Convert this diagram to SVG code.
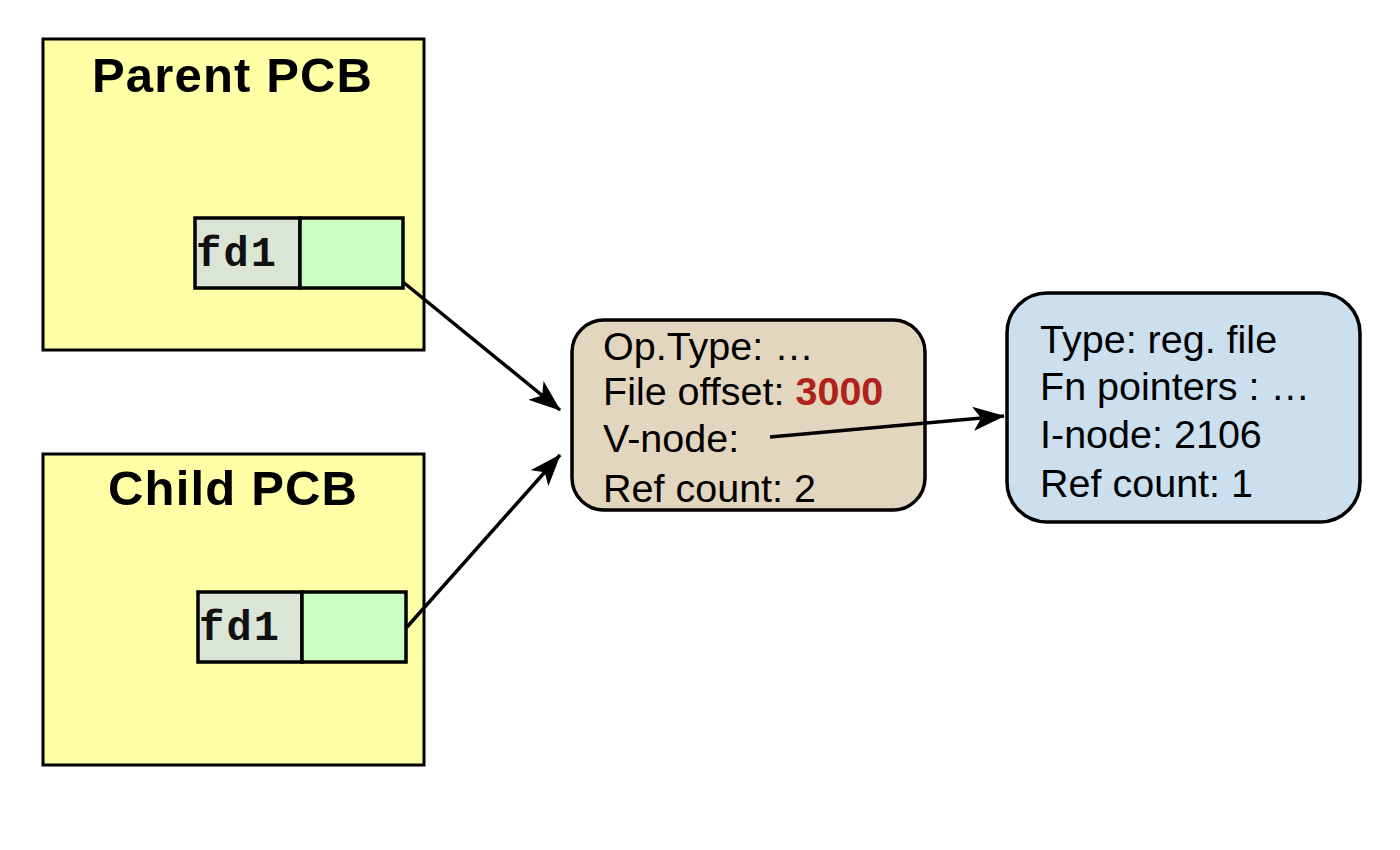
<svg xmlns="http://www.w3.org/2000/svg" width="1400" height="850" viewBox="0 0 1400 850">
<style>
.pcb{fill:#ffffa6;stroke:#000;stroke-width:3}
.key{fill:#dbe5d5;stroke:#000;stroke-width:3.5}
.val{fill:#ccffc4;stroke:#000;stroke-width:3.5}
.title{font-family:"Liberation Sans",Arial,sans-serif;font-weight:bold;font-size:49px;fill:#000}
.mono{font-family:"Liberation Mono","Courier New",monospace;font-weight:bold;font-size:42px;fill:#111}
.txt{font-family:"Liberation Sans",Arial,sans-serif;font-size:39.5px;fill:#000}
.red{font-weight:bold;fill:#b0221b}
.conn{stroke:#000;stroke-width:3.5;fill:none;marker-end:url(#arrow)}
</style>
<defs>
<marker id="arrow" viewBox="0 0 32 24" refX="31" refY="12" markerWidth="32" markerHeight="24" orient="auto" markerUnits="userSpaceOnUse">
<path d="M0,0 L32,12 L0,24 L8,12 z" fill="#000"/>
</marker>
</defs>
<rect width="1400" height="850" fill="#fff"/>
<g id="parent-pcb">
<rect class="pcb" x="43" y="39" width="381" height="311"/>
<text class="title" x="92" y="92" textLength="280">Parent PCB</text>
<rect class="key" x="195" y="218" width="105" height="70"/>
<rect class="val" x="300" y="218" width="103" height="70"/>
<text class="mono" x="196" y="266" textLength="80">fd1</text>
</g>
<g id="child-pcb">
<rect class="pcb" x="43" y="454" width="381" height="311"/>
<text class="title" x="108" y="505" textLength="249">Child PCB</text>
<rect class="key" x="198" y="592" width="104" height="70"/>
<rect class="val" x="302" y="592" width="104" height="70"/>
<text class="mono" x="199" y="640" textLength="80">fd1</text>
</g>
<g id="open-file">
<rect x="572" y="320" width="353" height="190" rx="32" ry="32" fill="#e3d6bf" stroke="#000" stroke-width="3.5"/>
<text class="txt" x="603" y="360">Op.Type: …</text>
<text class="txt" x="603" y="405">File offset: <tspan class="red">3000</tspan></text>
<text class="txt" x="603" y="452">V-node:</text>
<text class="txt" x="603" y="502">Ref count: 2</text>
</g>
<g id="vnode">
<rect x="1007" y="293" width="353" height="229" rx="40" ry="40" fill="#cbdfef" stroke="#000" stroke-width="3.5"/>
<text class="txt" x="1040" y="353">Type: reg. file</text>
<text class="txt" x="1040" y="400">Fn pointers : …</text>
<text class="txt" x="1040" y="448">I-node: 2106</text>
<text class="txt" x="1040" y="497">Ref count: 1</text>
</g>
<g id="connectors">
<line class="conn" x1="403" y1="282" x2="560" y2="410"/>
<line class="conn" x1="407" y1="627" x2="560" y2="455"/>
<line class="conn" x1="770" y1="437" x2="1004" y2="416"/>
</g>
</svg>
